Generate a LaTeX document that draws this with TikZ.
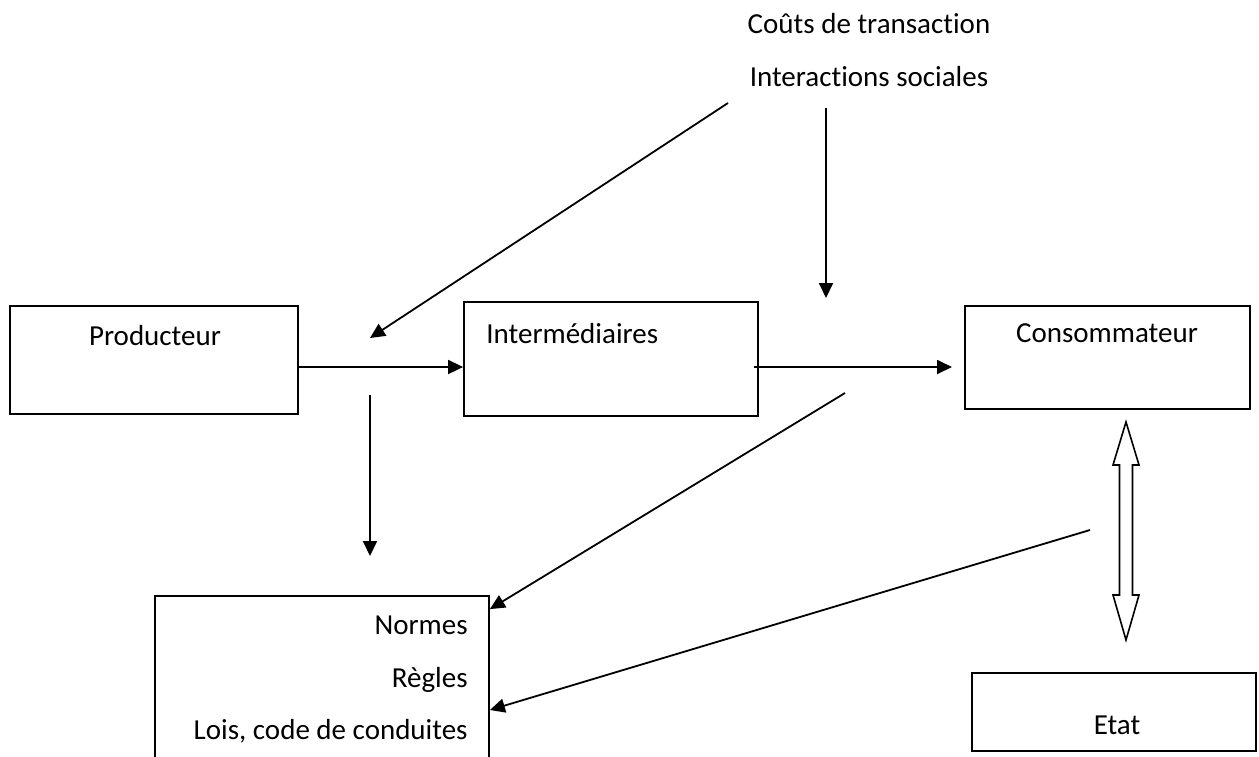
\documentclass[tikz,border=0pt]{standalone}
\usepackage{fontspec}
\setmainfont{Carlito}[Ligatures=NoCommon]
\usetikzlibrary{arrows.meta}

\tikzstyle{box} = [draw, line width=0.9pt, rectangle, inner sep=0pt]
\tikzstyle{txt} = [anchor=base, inner sep=0pt, font=\fontsize{14.5}{17}\selectfont]
\tikzstyle{fleche} = [line width=0.9pt, -{Triangle[length=7.5pt,width=7pt]}]

\begin{document}
\begin{tikzpicture}[x=0.5pt, y=-0.5pt]
\clip (0,0) rectangle (1259,756);

\node[box, minimum width=144pt, minimum height=54pt] (prod) at (154,360) {};
\node[box, minimum width=147pt, minimum height=57pt] (inter) at (611,359) {};
\node[box, minimum width=142.5pt, minimum height=51.5pt] (conso) at (1107.5,357.5) {};
\node[box, minimum width=167pt, minimum height=87pt] (norm) at (322,683) {};
\node[box, minimum width=142pt, minimum height=39pt] (etat) at (1114,712) {};

\node[txt] (prodtxt) at (155,345) {Producteur};
\node[txt, anchor=base west] (intertxt) at (486,343) {Intermédiaires};
\node[txt] (consotxt) at (1107,342) {Consommateur};
\node[txt, anchor=base east] (normes) at (468,634) {Normes};
\node[txt, anchor=base east] (regles) at (468,687) {Règles};
\node[txt, anchor=base east] (lois) at (468,739) {Lois, code de conduites};
\node[txt] (etattxt) at (1117,734) {Etat};
\node[txt] (couts) at (869,33) {Coûts de transaction};
\node[txt] (social) at (869,86) {Interactions sociales};

% points libres
\coordinate (a1) at (728,103);
\coordinate (a2) at (370,338);
\coordinate (b1) at (826,108);
\coordinate (b2) at (826,298);
\coordinate (c1) at (370,395);
\coordinate (c2) at (370,556);
\coordinate (d1) at (754,367);
\coordinate (d2) at (952,367);
\coordinate (e1) at (845,393);
\coordinate (f1) at (1090,530);
\coordinate (dbl) at (1126,531);

\draw[fleche] (a1) -- (a2);
\draw[fleche] (b1) -- (b2);
\draw[fleche] ([yshift=-3.5pt]prod.east) -- ([yshift=-3.5pt]prod.east -| inter.west);
\draw[fleche] (c1) -- (c2);
\draw[fleche] (d1) -- (d2);
\draw[fleche] (e1) -- ([yshift=-7pt]norm.north east);
\draw[fleche] (f1) -- ([yshift=-13.5pt]norm.east);

% double fleche consommateur - etat
\draw[line width=0.8pt, line join=miter] (dbl) ++(0,-109) -- ++(13,43) -- ++(-6.5,0)
	-- ++(0,130) -- ++(6.5,0) -- ++(-13,45) -- ++(-13,-45) -- ++(6.5,0)
	-- ++(0,-130) -- ++(-6.5,0) -- cycle;

\end{tikzpicture}
\end{document}
